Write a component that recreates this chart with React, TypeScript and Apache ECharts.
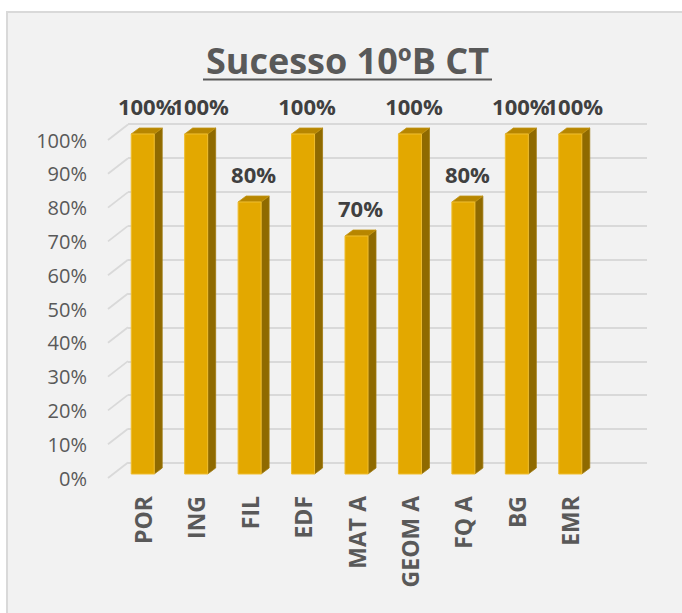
import React, { useEffect, useRef } from "react";
import * as echarts from "echarts";

const titleText = "Sucesso 10ºB CT";
const categories = ["POR", "ING", "FIL", "EDF", "MAT A", "GEOM A", "FQ A", "BG", "EMR"];
const values = [1.0, 1.0, 0.8, 1.0, 0.7, 1.0, 0.8, 1.0, 1.0];
const yTicks = [0, 0.1, 0.2, 0.3, 0.4, 0.5, 0.6, 0.7, 0.8, 0.9, 1.0];

const FONT = "'Open Sans', 'Liberation Sans', sans-serif";
const pct = (v: number) => `${Math.round(v * 100)}%`;

export default function App() {
  const ref = useRef<HTMLDivElement>(null);
  useEffect(() => {
    document.body.style.margin = "0";
    const chart = echarts.init(ref.current!, null, { renderer: "svg" });
    const BAR_W = 23;
    const DX = 8;
    const DY = 6;
    const option: any = {
      animation: false,
      backgroundColor: "#ffffff",
      graphic: [
        {
          type: "rect",
          z: -10,
          silent: true,
          shape: { x: 7, y: 12, width: 720, height: 720 },
          style: { fill: "#f2f2f2", stroke: "#d9d9d9", lineWidth: 2 },
        },
        {
          type: "text",
          x: 347.5,
          y: 60.5,
          style: {
            text: titleText,
            font: `bold 36px ${FONT}`,
            fill: "#595959",
            align: "center",
            verticalAlign: "middle",
          },
        },
        {
          type: "line",
          shape: { x1: 203, y1: 79.5, x2: 492, y2: 79.5 },
          style: { stroke: "#595959", lineWidth: 2 },
        },
      ],
      grid: [
        { left: 128, right: 35, top: 124, bottom: 150 },
        { left: 108, right: 554, top: 140, bottom: 135 },
        { left: 116, right: 85, top: 134, bottom: 139 },
      ],
      xAxis: [
        { gridIndex: 0, type: "value", min: 0, max: 1, show: false },
        { gridIndex: 1, type: "value", min: 0, max: 1, show: false },
        {
          gridIndex: 2,
          type: "category",
          data: categories,
          axisLine: { show: false },
          axisTick: { show: false },
          axisLabel: {
            rotate: 90,
            margin: 22,
            interval: 0,
            fontFamily: FONT,
            fontWeight: "bold",
            fontSize: 23,
            color: "#595959",
          },
        },
      ],
      yAxis: [
        {
          gridIndex: 0,
          type: "value",
          min: 0,
          max: 1,
          interval: 0.1,
          axisLine: { show: false },
          axisTick: { show: false },
          axisLabel: { show: false },
          splitLine: { show: true, lineStyle: { color: "#d9d9d9", width: 1.8 } },
        },
        {
          gridIndex: 1,
          type: "value",
          min: 0,
          max: 1,
          interval: 0.1,
          axisLine: { show: false },
          axisTick: { show: false },
          splitLine: { show: false },
          axisLabel: {
            margin: 21,
            formatter: (v: number) => pct(v),
            fontFamily: FONT,
            fontSize: 20,
            color: "#595959",
          },
        },
        {
          gridIndex: 2,
          type: "value",
          min: 0,
          max: 1,
          show: false,
        },
      ],
      series: [
        {
          type: "custom",
          xAxisIndex: 1,
          yAxisIndex: 1,
          silent: true,
          data: yTicks.map((t) => [0, t]),
          renderItem: (params: any, api: any) => {
            const p = api.coord([api.value(0), api.value(1)]);
            return {
              type: "line",
              shape: { x1: p[0], y1: p[1], x2: p[0] + 20, y2: p[1] - 15.5 },
              style: { stroke: "#d9d9d9", lineWidth: 1.8 },
            };
          },
        },
        {
          type: "custom",
          xAxisIndex: 2,
          yAxisIndex: 2,
          data: values.map((v, i) => [i, v]),
          encode: { x: 0, y: 1 },
          renderItem: (params: any, api: any) => {
            const idx = api.value(0);
            const v = api.value(1);
            const top = api.coord([idx, v]);
            const bot = api.coord([idx, 0]);
            const x0 = top[0] - BAR_W / 2;
            const x1 = x0 + BAR_W;
            const yt = top[1];
            const yb = bot[1];
            return {
              type: "group",
              children: [
                {
                  type: "polygon",
                  shape: {
                    points: [
                      [x1, yt],
                      [x1 + DX, yt - DY],
                      [x1 + DX, yb - DY],
                      [x1, yb],
                    ],
                  },
                  style: { fill: "#8f6a00", stroke: "#a07a10", lineWidth: 0.8 },
                },
                {
                  type: "polygon",
                  shape: {
                    points: [
                      [x0, yt],
                      [x0 + DX, yt - DY],
                      [x1 + DX, yt - DY],
                      [x1, yt],
                    ],
                  },
                  style: { fill: "#b78600", stroke: "#c29412", lineWidth: 0.8 },
                },
                {
                  type: "rect",
                  shape: { x: x0, y: yt, width: BAR_W, height: yb - yt },
                  style: { fill: "#e3a800", stroke: "#efbd2e", lineWidth: 1 },
                },
                {
                  type: "text",
                  style: {
                    text: pct(v),
                    x: x0 + (BAR_W + DX) / 2,
                    y: yt - DY - 22,
                    align: "center",
                    verticalAlign: "middle",
                    font: `bold 22px ${FONT}`,
                    fill: "#404040",
                  },
                },
              ],
            };
          },
        },
      ],
    };
    chart.setOption(option);
    return () => chart.dispose();
  }, []);
  return <div ref={ref} style={{ width: 682, height: 613 }} />;
}
